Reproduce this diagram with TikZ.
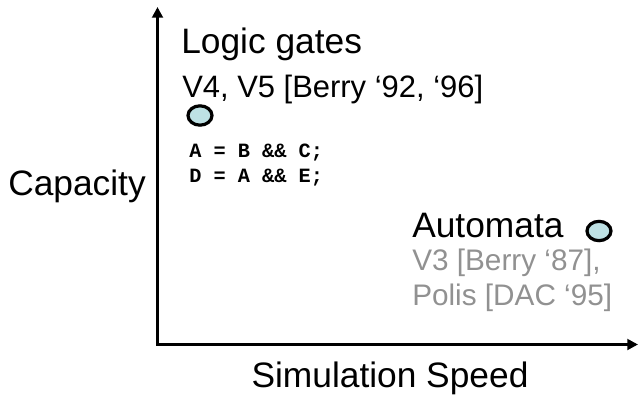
\documentclass[tikz,border=0pt]{standalone}
\usepackage{fontspec}
\setmainfont{Liberation Sans}
\newfontfamily\codefont{Liberation Mono}
\usetikzlibrary{arrows.meta}
\definecolor{dotfill}{RGB}{190,225,228}
\definecolor{refgray}{RGB}{145,145,145}
\tikzset{
  axis/.style={line width=2.3pt, -{Triangle[length=8pt,width=8pt]}},
  bigtext/.style={inner sep=0pt, font=\fontsize{26.5}{30}\selectfont},
  reftext/.style={inner sep=0pt, font=\fontsize{23.2}{27}\selectfont},
  graytext/.style={inner sep=0pt, text=refgray, font=\fontsize{22.3}{26}\selectfont},
  codetext/.style={inner sep=0pt, font=\codefont\bfseries\fontsize{15.2}{18}\selectfont},
  dot/.style={ellipse, draw, line width=2.4pt, fill=dotfill, minimum width=18pt, minimum height=14.5pt, inner sep=0pt}
}
\usetikzlibrary{shapes.geometric}
\begin{document}
\begin{tikzpicture}[x=0.75pt, y=-0.75pt]
  % Frame
  \useasboundingbox (0,0) rectangle (639,396);

  % Axes
  \coordinate (origin) at (157.5,344.5);
  \coordinate (ytip) at (157.5,7);
  \coordinate (xtip) at (638,344.5);
  \draw[axis] (origin) -- (ytip);
  \draw[axis] ([xshift=-1.1pt]origin) -- (xtip);

  % Axis labels
  \node[bigtext, anchor=base] (ylabel) at (77,195) {Capacity};
  \node[bigtext, anchor=base] (xlabel) at (390,387) {Simulation Speed};

  % Logic gates
  \node[bigtext, anchor=base west] (gates) at (181,53) {Logic gates};
  \node[reftext, anchor=base west] (gatesref) at (182,97) {V4, V5 [Berry ‘92, ‘96]};
  \node[dot] (gatesdot) at (200,115.5) {};
  \node[codetext, anchor=base west] (code1) at (189,157) {A = B \&\& C;};
  \node[codetext, anchor=base west] (code2) at (189,182) {D = A \&\& E;};

  % Automata
  \node[bigtext, anchor=base west] (automata) at (412,237) {Automata};
  \node[dot] (automatadot) at (599,231) {};
  \node[graytext, anchor=base west] (autoref1) at (412,270) {V3 [Berry ‘87],};
  \node[graytext, anchor=base west] (autoref2) at (412,305) {Polis [DAC ‘95]};
\end{tikzpicture}
\end{document}
